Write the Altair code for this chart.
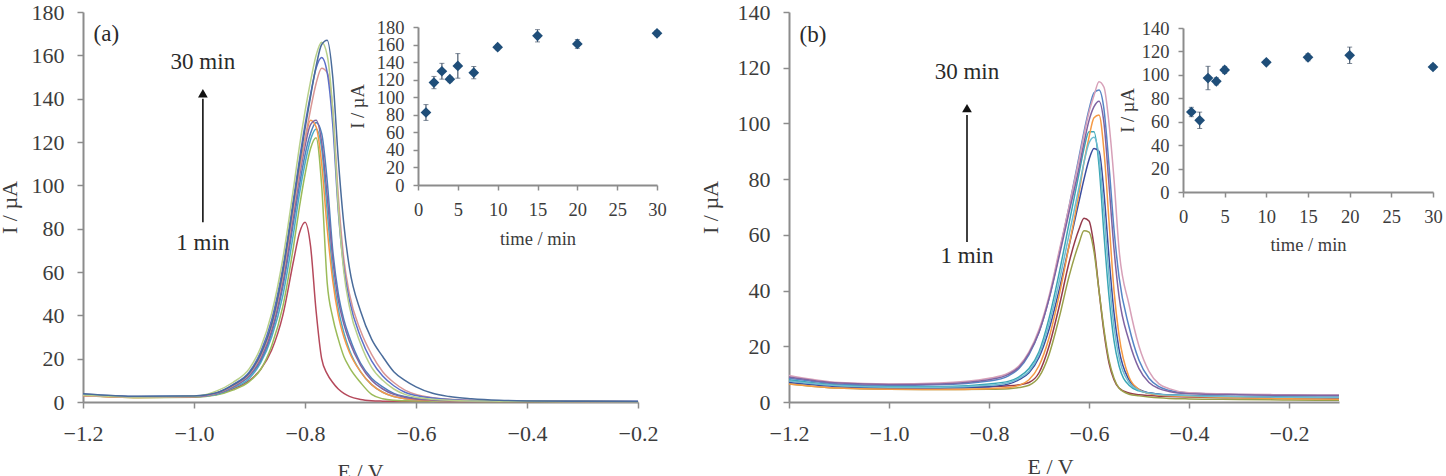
import altair as alt
import pandas as pd

W, H = 1446, 476
FONT = "Liberation Serif"
TXT = "#3c3c3c"
AXC = "#8c8c8c"

# ---------------- panel (a): stripping voltammograms ----------------
E_A = [-1.2, -1.1, -1.0, -0.96, -0.93, -0.9, -0.88, -0.86, -0.84, -0.82, -0.81,
       -0.8, -0.79, -0.78, -0.77, -0.76, -0.75, -0.74, -0.73, -0.72, -0.7, -0.68,
       -0.66, -0.64, -0.62, -0.6, -0.57, -0.54, -0.5, -0.45, -0.4, -0.3, -0.2]

A_S1 = [3.0, 2.2, 2.5, 3.5, 6, 10, 15, 24, 40, 66, 78, 83, 72, 42, 20, 13, 9, 6, 4,
        2.6, 1.2, 0.6, 0.4, 0.3, 0.3, 0.3, 0.3, 0.2, 0.2, 0.2, 0.2, 0.1, 0.1]
A_S2 = [3.0, 2.0, 2.2, 3.2, 5.5, 9.5, 15, 26, 44, 73, 90, 105, 117, 122, 100, 55, 39,
        29, 21, 16, 9, 3.5, 1.5, 0.8, 0.6, 0.5, 0.4, 0.3, 0.3, 0.2, 0.2, 0.1, 0.1]
A_S3 = [3.2, 2.2, 2.4, 3.5, 6.5, 11, 18, 30, 49, 79, 96, 110, 121, 126, 117, 88, 60,
        43, 32, 24, 14, 8, 4.5, 2.5, 1.5, 1.0, 0.7, 0.5, 0.4, 0.3, 0.3, 0.2, 0.1]
A_S4 = [3.5, 2.4, 2.6, 3.8, 7, 12, 19, 32, 53, 84, 100, 114, 124, 129, 124, 102, 70,
        50, 38, 30, 18, 11, 7, 4, 2.5, 1.6, 1.0, 0.7, 0.5, 0.4, 0.3, 0.2, 0.2]
A_S5 = [3.0, 2.1, 2.4, 4, 7.5, 13, 21, 35, 58, 90, 107, 121, 130, 127, 110, 80, 56,
        40, 30, 23, 14, 8, 4.5, 2.5, 1.5, 1.0, 0.7, 0.5, 0.4, 0.3, 0.3, 0.2, 0.1]
A_S6 = [3.3, 2.3, 2.5, 3.8, 7, 12.5, 20, 33, 55, 87, 104, 118, 128, 130, 120, 95, 66,
        47, 36, 28, 17, 10, 6, 3.5, 2.2, 1.4, 0.9, 0.6, 0.5, 0.4, 0.3, 0.2, 0.2]
A_S7 = [3.0, 2.2, 2.5, 4, 7.5, 13, 21, 35, 58, 90, 106, 121, 135, 147, 154, 152, 135,
        95, 66, 50, 33, 22, 14, 9, 5.5, 3.5, 2.0, 1.3, 0.8, 0.5, 0.4, 0.2, 0.1]
A_S8 = [3.6, 2.5, 2.7, 4.2, 8, 14, 23, 38, 62, 95, 112, 128, 142, 154, 159, 152, 128,
        88, 62, 47, 30, 19, 12, 7.5, 4.5, 3, 1.8, 1.1, 0.7, 0.5, 0.4, 0.3, 0.2]
A_S9 = [3.2, 2.3, 2.6, 5, 9, 15.5, 25, 41, 66, 100, 118, 134, 148, 160, 166, 160, 135,
        90, 60, 44, 27, 16, 10, 6, 3.5, 2.2, 1.3, 0.8, 0.5, 0.4, 0.3, 0.2, 0.1]
A_S10 = [3.8, 2.6, 2.8, 4.2, 7.8, 13.5, 22, 36, 60, 93, 110, 126, 141, 155, 165, 167,
         150, 112, 82, 62, 42, 29, 21, 14, 10, 7, 4, 2.5, 1.5, 0.8, 0.5, 0.3, 0.2]

CURVES_A = {"a1": A_S1, "a2": A_S2, "a3": A_S3, "a4": A_S4, "a5": A_S5,
            "a6": A_S6, "a7": A_S7, "a8": A_S8, "a9": A_S9, "a10": A_S10}
COLORS_A = ["#B5495B", "#9BBB59", "#4BACC6", "#4F81BD", "#F79646",
            "#8064A2", "#D99694", "#5B6FC8", "#B8D08A", "#4A6C9B"]

# ---------------- panel (b): stripping voltammograms ----------------
E_B = [-1.2, -1.1, -1.0, -0.9, -0.8, -0.76, -0.74, -0.72, -0.7, -0.68, -0.66, -0.64,
       -0.62, -0.61, -0.6, -0.59, -0.58, -0.57, -0.56, -0.55, -0.54, -0.52, -0.5,
       -0.48, -0.46, -0.44, -0.4, -0.3, -0.2, -0.1]

B_S1 = [7.5, 6.0, 5.5, 5.3, 5.5, 5.8, 6.2, 7, 10.5, 20, 34, 50, 62, 66, 65, 56, 40,
        25, 14, 8, 5, 3.2, 2.6, 2.3, 2.1, 2.0, 1.8, 1.5, 1.3, 1.2]
B_S2 = [6.5, 5.0, 4.6, 4.5, 4.6, 4.8, 5.2, 6, 9, 17, 30, 45, 57, 61.5, 61, 54, 40,
        26, 15, 8.5, 5, 2.8, 2.2, 1.8, 1.5, 1.3, 1.1, 0.9, 0.7, 0.6]
B_S3 = [8, 6, 5.5, 5.5, 6.5, 7.5, 9, 12, 18, 30, 46, 64, 82, 91, 97, 97, 85, 60, 38,
        22, 13, 6, 4, 3.2, 2.8, 2.6, 2.3, 2.0, 1.8, 1.7]
B_S4 = [7, 5.5, 5, 5, 5.5, 6.5, 8, 10.5, 16, 26, 40, 56, 72, 80, 87, 91, 90, 75, 52,
        32, 19, 8, 4.5, 3.3, 2.8, 2.5, 2.2, 1.9, 1.7, 1.6]
B_S5 = [6.5, 5, 4.6, 4.5, 4.8, 5.2, 6, 8, 13, 23, 38, 56, 75, 86, 95, 102, 103, 90,
        65, 40, 24, 9, 4.5, 3, 2.5, 2.2, 2, 1.5, 1.2, 1.0]
B_S6 = [8.5, 6.5, 6, 6.2, 7.5, 9.5, 12, 17, 25, 37, 53, 70, 88, 97, 105, 111, 112,
        105, 85, 62, 45, 27, 15, 8.5, 5.5, 4.2, 3.2, 2.7, 2.5, 2.4]
B_S7 = [9.5, 7, 6.5, 6.8, 8.5, 10.5, 13, 18, 26, 38, 54, 70, 87, 96, 104, 110, 115,
        113, 100, 80, 55, 35, 20, 11, 6.5, 4.8, 3.3, 2.8, 2.6, 2.5]
B_S8 = [9, 6.8, 6.3, 6.5, 8, 10, 12.5, 17.5, 25, 37, 52, 68, 84, 93, 101, 106, 108,
        100, 78, 55, 38, 22, 12, 7, 4.8, 3.8, 3.0, 2.6, 2.4, 2.3]
B_S9 = [7.5, 5.8, 5.3, 5.3, 6, 7, 8.5, 11, 17, 28, 43, 60, 77, 86, 93, 95, 88, 68,
        45, 27, 16, 7, 4.2, 3.2, 2.7, 2.5, 2.2, 1.9, 1.7, 1.6]

CURVES_B = {"b1": B_S1, "b2": B_S2, "b3": B_S3, "b4": B_S4, "b5": B_S5,
            "b6": B_S6, "b7": B_S7, "b8": B_S8, "b9": B_S9}
COLORS_B = ["#953B4C", "#9AA04A", "#3AA6B5", "#3B4C9E", "#F59A45",
            "#5585C5", "#D7A0B8", "#8064A2", "#6FBDD1"]

# ---------------- insets: peak current vs deposition time ----------------
T_A = [1, 2, 3, 4, 5, 7, 10, 15, 20, 30]
PEAK_A = [82.6, 116.7, 129.6, 120.5, 135.7, 128, 157, 170, 160.7, 172.8]
ERR_A = [9, 7, 9, 3, 14, 7, 3, 7, 5, 3]

T_B = [1, 2, 3, 4, 5, 10, 15, 20, 30]
PEAK_B = [68.3, 61.2, 97.3, 94.5, 104.2, 110.7, 115, 116.7, 106.7]
ERR_B = [4, 7, 10, 3, 3, 2, 3, 7, 2]

# Text annotations (label, E, I)
NOTES_A = (["(a)", "30 min", "1 min"], [-1.158, -0.984, -0.984], [170, 157, 73.4])
ARROW_A = (-0.984, 83, 140, 142.5)   # E, start, end of shaft, head centre
NOTES_B = (["(b)", "30 min", "1 min"], [-1.152, -0.844, -0.844], [131.7, 118.5, 52.4])
ARROW_B = (-0.844, 57.4, 103, 105.5)


def long_frame(grid, curves):
    rows = []
    for name, vals in curves.items():
        for e, i in zip(grid, vals):
            rows.append({"E": e, "I": i, "series": name})
    return pd.DataFrame(rows)


def axis_style(size):
    return dict(grid=False, domainColor=AXC, domainWidth=2, tickColor=AXC, tickWidth=1.5,
                labelFont=FONT, labelFontSize=size, labelColor=TXT, labelOverlap=False,
                labelFlush=False, titleFont=FONT, titleFontSize=size, titleColor=TXT,
                titleFontWeight="normal")


def panel(grid, curves, colors, x_dom, x_rng, x_vals, y_dom, y_rng, y_vals,
          notes, arrow, x_title_y, y_title_x, x_title_x):
    df = long_frame(grid, curves)
    X = alt.X("E:Q",
              scale=alt.Scale(domain=x_dom, range=x_rng, nice=False, zero=False),
              axis=alt.Axis(orient="bottom", offset=-(H - y_rng[0]), values=x_vals,
                            format=".1f", title="E / V", tickSize=6, labelPadding=15,
                            titleX=x_title_x, titleY=x_title_y,
                            titleBaseline="alphabetic", **axis_style(22)))
    Y = alt.Y("I:Q",
              scale=alt.Scale(domain=y_dom, range=y_rng, nice=False, zero=False),
              axis=alt.Axis(orient="left", offset=-x_rng[0], values=y_vals,
                            title="I / µA", tickSize=6, labelPadding=13,
                            titleX=y_title_x, titleAngle=270, titleBaseline="alphabetic",
                            **axis_style(22)))
    lines = alt.Chart(df).mark_line(interpolate="monotone", strokeWidth=1.5).encode(
        x=X, y=Y,
        color=alt.Color("series:N", scale=alt.Scale(domain=list(curves), range=colors),
                        legend=None),
    )
    ndf = pd.DataFrame({"label": notes[0], "E": notes[1], "I": notes[2]})
    text = alt.Chart(ndf).mark_text(font=FONT, fontSize=23, color="#2a2a2a",
                                    align="center", baseline="middle").encode(
        x=X, y=Y, text="label:N")
    adf = pd.DataFrame({"E": [arrow[0]], "I": [arrow[1]], "I2": [arrow[2]]})
    shaft = alt.Chart(adf).mark_rule(color="#111111", strokeWidth=1.6).encode(
        x=X, y=Y, y2="I2:Q")
    hdf = pd.DataFrame({"E": [arrow[0]], "I": [arrow[3]]})
    head = alt.Chart(hdf).mark_point(shape="triangle-up", filled=True, size=95,
                                     color="#111111", opacity=1).encode(x=X, y=Y)
    return alt.layer(lines, shaft, head, text)


def inset(t, peak, err, x_rng, y_dom, y_rng, y_vals, x_title_y, y_title_x):
    df = pd.DataFrame({"t": t, "I": peak,
                       "lo": [p - e for p, e in zip(peak, err)],
                       "hi": [p + e for p, e in zip(peak, err)]})
    xs = alt.Scale(domain=[0, 30], range=x_rng, nice=False, zero=False)
    ys = alt.Scale(domain=y_dom, range=y_rng, nice=False, zero=False)
    xa = alt.Axis(orient="bottom", offset=-(H - y_rng[0]), values=list(range(0, 31, 5)),
                  title="time / min", tickSize=5, labelPadding=10, titleY=x_title_y,
                  titleBaseline="alphabetic", **axis_style(18.5))
    ya = alt.Axis(orient="left", offset=-x_rng[0], values=y_vals, title="I / µA",
                  tickSize=5, labelPadding=9, titleX=y_title_x, titleAngle=270,
                  titleBaseline="alphabetic", **axis_style(18.5))
    X = alt.X("t:Q", scale=xs, axis=xa)
    bars = alt.Chart(df).mark_rule(color="#4a5a6e", strokeWidth=1.2).encode(
        x=X, y=alt.Y("lo:Q", scale=ys, axis=ya), y2="hi:Q")
    caps_lo = alt.Chart(df).mark_tick(color="#4a5a6e", orient="horizontal", size=5,
                                      thickness=1).encode(
        x=X, y=alt.Y("lo:Q", scale=ys, axis=ya))
    caps_hi = alt.Chart(df).mark_tick(color="#4a5a6e", orient="horizontal", size=5,
                                      thickness=1).encode(
        x=X, y=alt.Y("hi:Q", scale=ys, axis=ya))
    pts = alt.Chart(df).mark_point(shape="diamond", filled=True, size=115,
                                   color="#1F4E79", opacity=1).encode(
        x=X, y=alt.Y("I:Q", scale=ys, axis=ya))
    return alt.layer(bars, caps_lo, caps_hi, pts)


panel_a = panel(E_A, CURVES_A, COLORS_A, [-1.2, -0.2], [83, 638],
                [-1.2, -1.0, -0.8, -0.6, -0.4, -0.2], [0, 180], [402, 12],
                list(range(0, 181, 20)), NOTES_A, ARROW_A, 76, -67, 360)
panel_b = panel(E_B, CURVES_B, COLORS_B, [-1.2, -0.1], [789, 1339],
                [-1.2, -1.0, -0.8, -0.6, -0.4, -0.2], [0, 140], [402, 12],
                list(range(0, 141, 20)), NOTES_B, ARROW_B, 71, -72, 1050)
inset_a = inset(T_A, PEAK_A, ERR_A, [418, 657], [0, 180], [185, 27],
                list(range(0, 181, 20)), 59, -55)
inset_b = inset(T_B, PEAK_B, ERR_B, [1183, 1433], [0, 140], [192, 28],
                list(range(0, 141, 20)), 58, -50)

chart = (
    alt.layer(panel_a, panel_b, inset_a, inset_b)
    .resolve_scale(x="independent", y="independent", color="independent")
    .properties(width=W, height=H, padding=0,
                autosize=alt.AutoSizeParams(type="none"), background="white")
    .configure_view(strokeWidth=0)
)

chart.save("out.html", embed_options={"renderer": "svg", "actions": False})
